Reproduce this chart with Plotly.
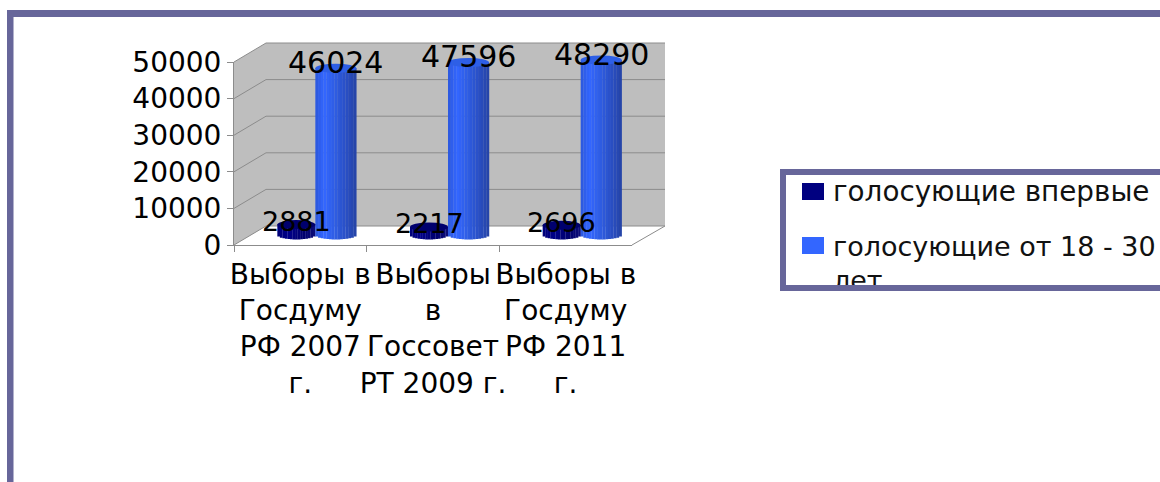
import math
import plotly.graph_objects as go

categories = ["Выборы в<br>Госдуму<br>РФ 2007<br>г.",
              "Выборы<br>в<br>Госсовет<br>РТ 2009 г.",
              "Выборы в<br>Госдуму<br>РФ 2011<br>г."]
first_time = [2881, 2217, 2696]
youth = [46024, 47596, 48290]
tick_values = [0, 10000, 20000, 30000, 40000, 50000]
legend_lines = ["голосующие впервые", "голосующие от 18 - 30", "лет"]

W, H = 1160, 482
FONT = "DejaVu Sans"
FRAME = "#67669A"
GRID = "#8C8C8C"
WALL = "#BEBEBE"

px = lambda x: x / W
py = lambda y: 1 - y / H

Y0, Y5 = 245, 62
DX, DY = 32, 19
yf = lambda v: Y0 - v * (Y0 - Y5) / 50000


def mix(a, b, t):
    return "#%02x%02x%02x" % tuple(round(a[i] + (b[i] - a[i]) * t) for i in range(3))


def ramp(stops, t):
    for (t0, c0), (t1, c1) in zip(stops, stops[1:]):
        if t <= t1:
            return mix(c0, c1, (t - t0) / (t1 - t0))
    return mix(stops[-1][1], stops[-1][1], 0)


BLUE = [(0, (44, 88, 220)), (.22, (51, 102, 255)), (.5, (46, 92, 225)), (.8, (40, 76, 190)), (1, (38, 68, 165))]
NAVY = [(0, (0, 0, 120)), (.3, (0, 0, 135)), (.7, (0, 0, 110)), (1, (14, 14, 120))]

K = 3.624e-3  # px per unit on the bar plane
ELL_PX = 4.5
ELL = ELL_PX / K
PX_CAT = (632 - 234) / 3

fig = go.Figure()

# front plane axes: tick labels and category labels
fig.add_trace(go.Scatter(x=categories, y=[0, 0, 0], mode="markers", marker=dict(opacity=0),
                         xaxis="x", yaxis="y", hoverinfo="skip", showlegend=False))

shapes = []
N = 15


def cylinder(values, center_px, width_px, stops, cap):
    c = center_px / PX_CAT
    w = width_px / PX_CAT
    xs = [i + c for i in range(3)]
    for j in range(N):
        u = (j + .5) / N
        e = ELL * math.sqrt(max(0, 1 - (2 * u - 1) ** 2))
        fig.add_trace(go.Bar(x=xs, y=[v + e for v in values], base=[-e] * 3,
                             width=w / N * 1.08, offset=-w / 2 + j * w / N,
                             marker=dict(color=ramp(stops, u), line=dict(width=0)),
                             xaxis="x2", yaxis="y2", hoverinfo="skip", showlegend=False,
                             cliponaxis=False))
    for x, v in zip(xs, values):
        shapes.append(dict(type="circle", xref="x2", yref="y2", layer="above",
                           x0=x - w / 2, x1=x + w / 2, y0=v - ELL, y1=v + ELL,
                           fillcolor=cap, line=dict(width=0)))
    return xs


xs_first = cylinder(first_time, -20, 38, NAVY, "#00006E")
xs_youth = cylinder(youth, 19.5, 41, BLUE, "#2E5FE6")

# walls
shapes[:0] = [
    dict(type="path", xref="paper", yref="paper", layer="below", line=dict(width=0), fillcolor=WALL,
         path=f"M{px(234)},{py(yf(50000))} L{px(234+DX)},{py(yf(50000)-DY)} L{px(234+DX)},{py(Y0-DY)} L{px(234)},{py(Y0)} Z"),
    dict(type="rect", xref="paper", yref="paper", layer="below", line=dict(width=0), fillcolor=WALL,
         x0=px(234 + DX), x1=px(665), y0=py(Y0 - DY), y1=py(yf(50000) - DY)),
]
for v in tick_values:
    y = yf(v)
    shapes.append(dict(type="line", xref="paper", yref="paper", layer="below", line=dict(color=GRID, width=1),
                       x0=px(234), y0=py(y), x1=px(234 + DX), y1=py(y - DY)))
    shapes.append(dict(type="line", xref="paper", yref="paper", layer="below", line=dict(color=GRID, width=1),
                       x0=px(234 + DX), y0=py(y - DY), x1=px(665), y1=py(y - DY)))
shapes.append(dict(type="line", xref="paper", yref="paper", layer="below", line=dict(color=GRID, width=1),
                   x0=px(632), y0=py(Y0), x1=px(665), y1=py(Y0 - DY)))

# outer frame
shapes += [
    dict(type="rect", xref="paper", yref="paper", layer="below", line=dict(width=0), fillcolor=FRAME,
         x0=px(7), x1=1, y0=py(17), y1=py(10)),
    dict(type="rect", xref="paper", yref="paper", layer="below", line=dict(width=0), fillcolor=FRAME,
         x0=px(7), x1=px(13.5), y0=0, y1=py(10)),
]

# legend box
shapes += [
    dict(type="rect", xref="paper", yref="paper", layer="below", line=dict(width=0), fillcolor=FRAME,
         x0=px(780), x1=1, y0=py(291), y1=py(169)),
    dict(type="rect", xref="paper", yref="paper", layer="below", line=dict(width=0), fillcolor="#FFFFFF",
         x0=px(786), x1=1, y0=py(285), y1=py(175)),
    dict(type="rect", xref="paper", yref="paper", layer="above", line=dict(width=0), fillcolor="#000080",
         x0=px(802), x1=px(824), y0=py(200), y1=py(183)),
    dict(type="rect", xref="paper", yref="paper", layer="above", line=dict(width=0), fillcolor="#3366FF",
         x0=px(802), x1=px(824), y0=py(254), y1=py(237)),
]

annotations = []
for xs, vals, shift, size in ((xs_first, first_time, 3, 27), (xs_youth, youth, 6, 30)):
    for x, v in zip(xs, vals):
        annotations.append(dict(x=x, y=v, xref="x2", yref="y2", text=str(v), showarrow=False, yshift=shift,
                                font=dict(family=FONT, size=size, color="black")))
for line, y, size in zip(legend_lines, (192, 247, 280), (27.8, 27, 27)):
    annotations.append(dict(x=px(832), y=py(y), xref="paper", yref="paper", text=line, showarrow=False,
                            xanchor="left", yanchor="middle", borderpad=0,
                            font=dict(family=FONT, size=size, color="#111111")))
# lower border of the legend box, drawn above the clipped last line
annotations.append(dict(x=px(780), y=py(291), xref="paper", yref="paper", text=" ", showarrow=False,
                        xanchor="left", yanchor="bottom", width=380, height=6, bgcolor=FRAME,
                        borderpad=0, borderwidth=0, font=dict(size=4, color=FRAME)))

fig.update_layout(
    width=W, height=H, margin=dict(l=0, r=0, t=0, b=0, pad=0, autoexpand=False),
    paper_bgcolor="white", plot_bgcolor="rgba(0,0,0,0)",
    barmode="overlay", showlegend=False, shapes=shapes, annotations=annotations,
    font=dict(family=FONT, color="black"),
    xaxis=dict(domain=[px(234), px(632)], type="category", range=[-.5, 2.5], tickmode="array", tickvals=categories,
               ticktext=categories, tickson="boundaries", ticks="outside", ticklen=6, tickcolor=GRID,
               showline=True, linecolor=GRID, showgrid=False, zeroline=False, automargin=False,
               ticklabelstandoff=4,
               tickfont=dict(family=FONT, size=28, color="black"), anchor="y", tickangle=0),
    yaxis=dict(domain=[py(Y0), py(Y5)], range=[0, 50000], tickmode="array", tickvals=tick_values,
               ticks="outside", ticklen=6, tickcolor=GRID, showline=True, linecolor=GRID, showgrid=False,
               zeroline=False, automargin=False, tickformat="d",
               tickfont=dict(family=FONT, size=28, color="black"), anchor="x"),
    xaxis2=dict(domain=[px(250), px(648)], range=[-.5, 2.5], visible=False, anchor="y2"),
    yaxis2=dict(domain=[py(235 + 5000 * K), py(235 - 50000 * K)], range=[-5000, 50000], visible=False, anchor="x2"),
)

fig.write_html("out.html", post_script="document.body.style.margin='0';document.body.style.overflow='hidden';",
               config=dict(displayModeBar=False))
